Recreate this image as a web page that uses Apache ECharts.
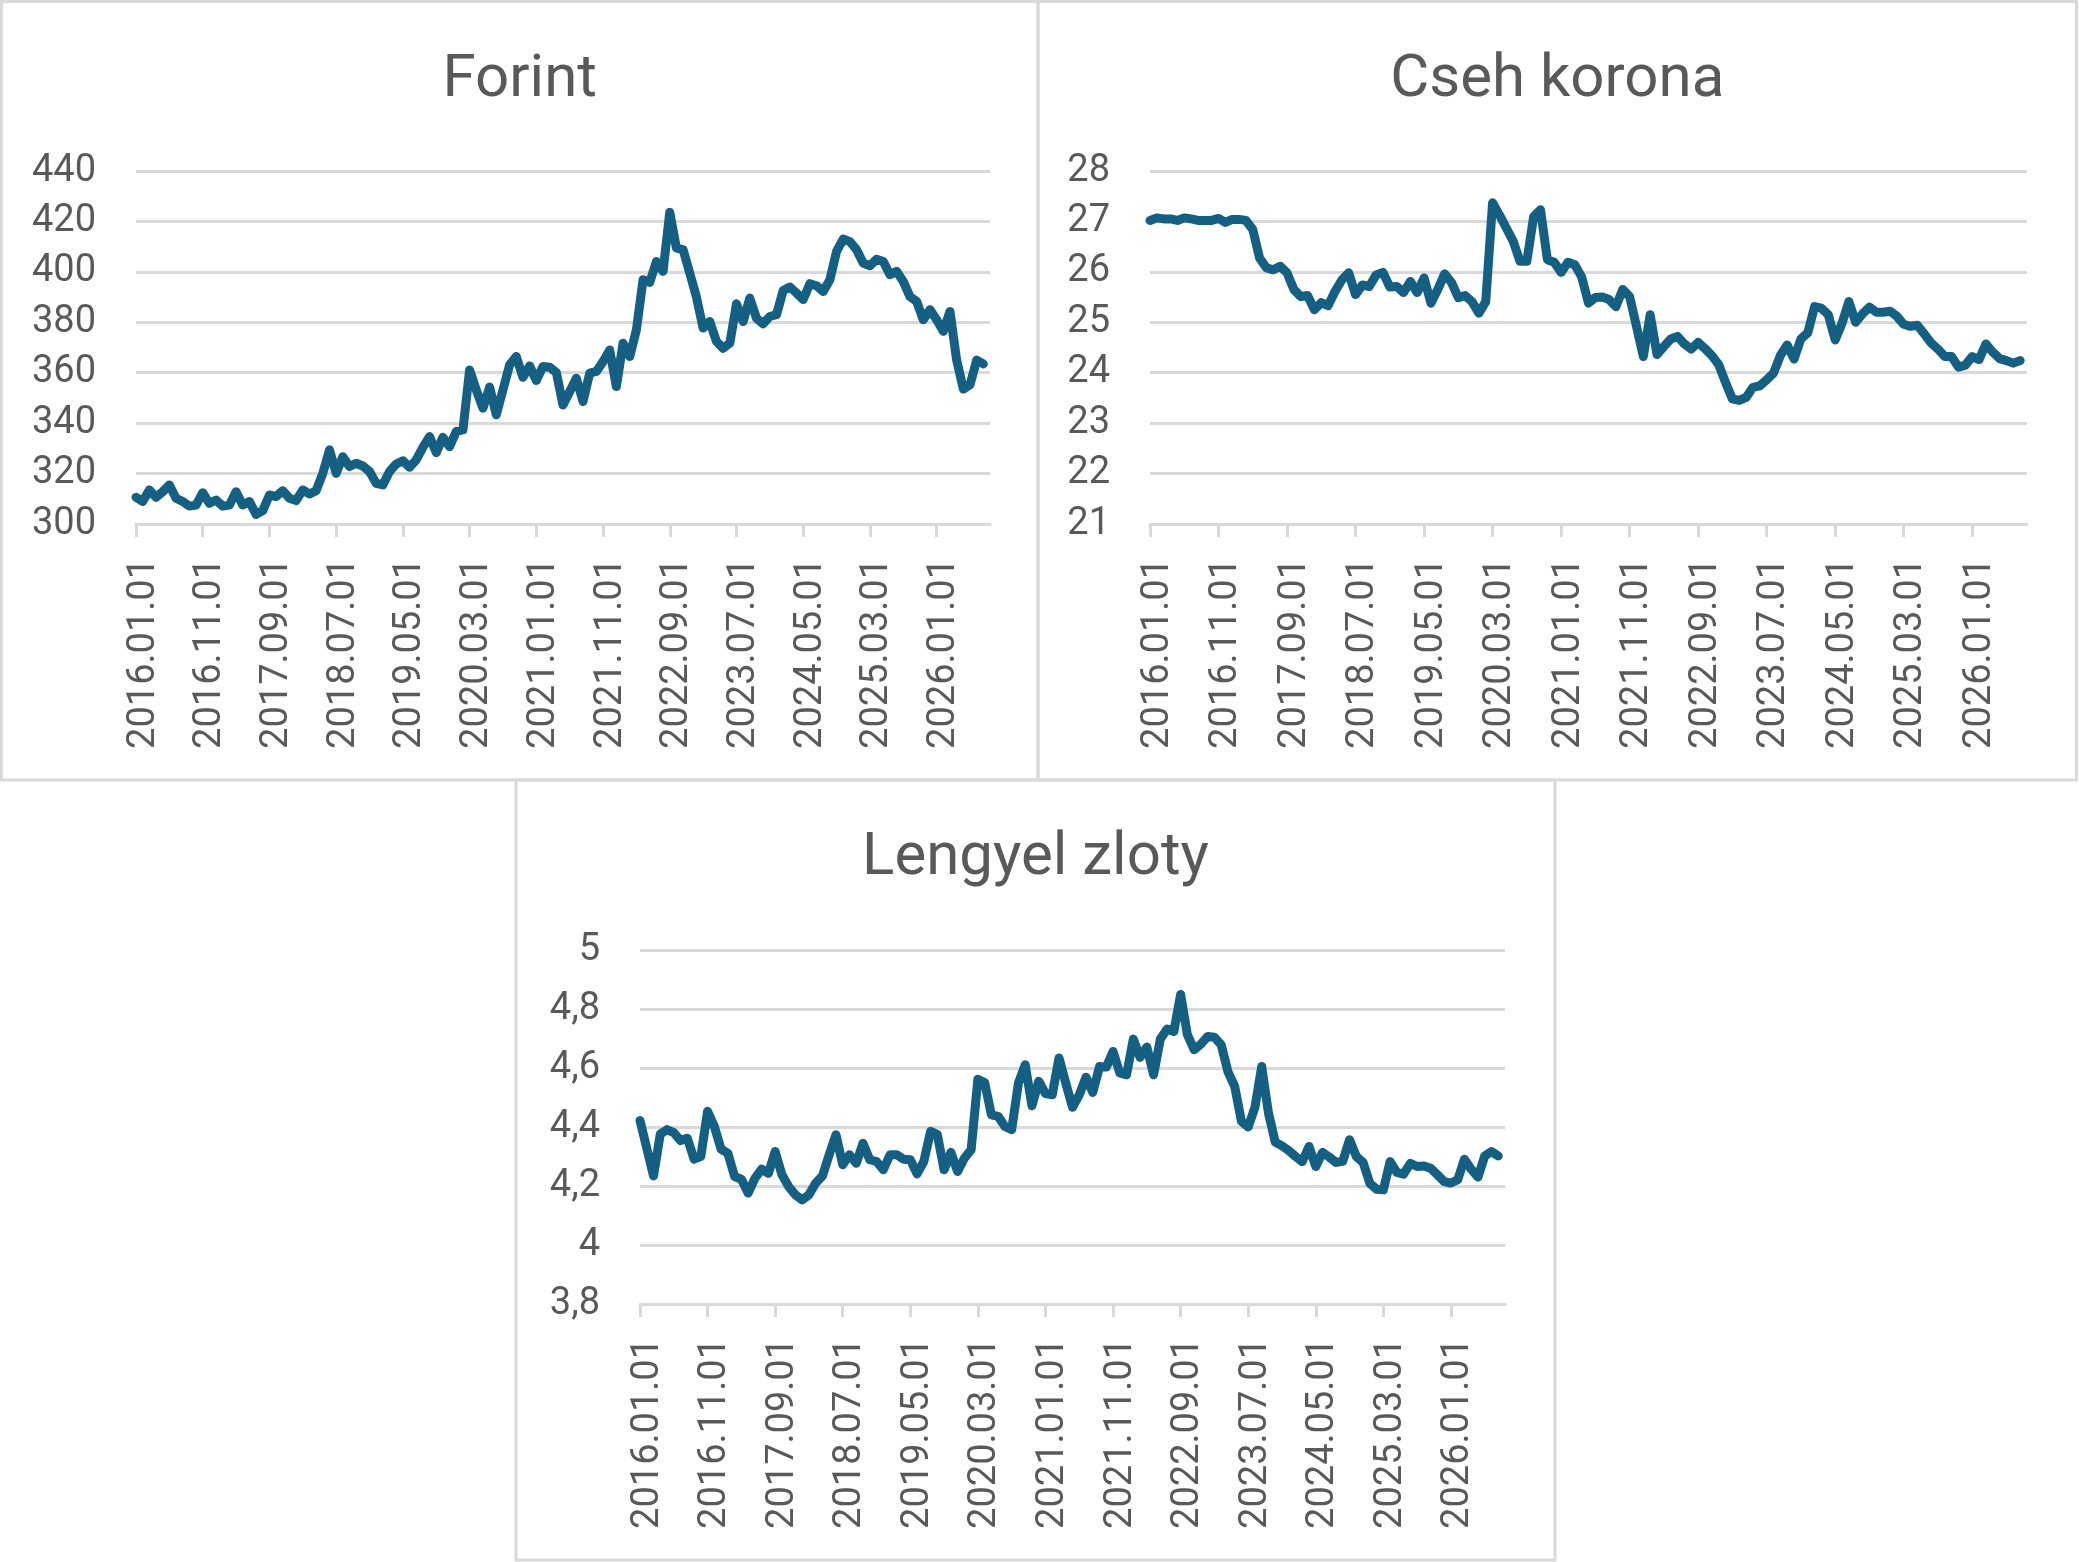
<!DOCTYPE html>
<html>
<head>
<meta charset="utf-8">
<title>Forint, Cseh korona, Lengyel zloty</title>
<script src="https://cdn.jsdelivr.net/npm/echarts@6.0.0/dist/echarts.min.js"></script>
<style>
  html, body { margin: 0; padding: 0; background: #ffffff; }
  #chartContainer { width: 2079px; height: 1562px; }
</style>
</head>
<body>
<div id="chartContainer"></div>
<script>
// ============================================================
// DATA
// Monthly values, 2016.01 -> 2026.08 (128 points each)
// The axis runs one month further, to 2026.09
// ============================================================

const panelTitles = ['Forint', 'Cseh korona', 'Lengyel zloty'];

// Forint (HUF)
const forintValues = [
  310.6, 308.9, 313.5, 310.6, 312.8, 315.5, 310.2, 308.9, 307.1, 307.5,
  312.4, 308.2, 309.5, 307.1, 307.5, 312.8, 307.5, 308.9, 303.8, 305.3,
  311.5, 310.9, 313.2, 310.2, 309.3, 313.5, 311.9, 313.2, 320.1, 329.4,
  320.1, 326.7, 322.8, 324.1, 323.0, 320.8, 316.1, 315.5, 320.8, 323.8,
  325.1, 322.5, 325.4, 330.4, 334.7, 328.3, 334.4, 330.7, 336.7, 337.3,
  361.1, 353.2, 345.9, 354.3, 343.3, 353.2, 363.1, 366.4, 358.2, 362.7,
  356.9, 362.5, 362.2, 360.1, 347.2, 352.5, 357.8, 348.6, 359.8, 360.5,
  364.4, 369.0, 354.5, 371.7, 366.4, 377.0, 396.9, 395.8, 404.1, 400.2,
  423.6, 409.4, 408.8, 399.5, 390.0, 377.7, 380.3, 372.4, 369.7, 371.7,
  387.3, 380.3, 389.6, 381.6, 379.4, 382.3, 383.0, 392.6, 394.0, 391.6,
  389.0, 395.3, 394.5, 392.2, 396.9, 408.1, 413.0, 412.0, 408.8, 403.5,
  402.4, 405.0, 404.1, 398.9, 400.2, 396.2, 390.2, 388.3, 381.0, 385.0,
  381.0, 376.4, 384.3, 365.0, 353.5, 355.2, 365.0, 363.5
];

// Cseh korona (CZK)
const korunaValues = [
  27.02, 27.07, 27.05, 27.05, 27.02, 27.07, 27.05, 27.02, 27.02, 27.02,
  27.06, 26.98, 27.04, 27.04, 27.02, 26.84, 26.27, 26.08, 26.04, 26.11,
  25.98, 25.65, 25.51, 25.53, 25.25, 25.39, 25.33, 25.61, 25.84, 25.98,
  25.55, 25.74, 25.71, 25.94, 25.99, 25.70, 25.71, 25.59, 25.81, 25.59,
  25.88, 25.38, 25.65, 25.96, 25.79, 25.49, 25.53, 25.41, 25.18, 25.41,
  27.37, 27.13, 26.87, 26.61, 26.21, 26.21, 27.10, 27.23, 26.24, 26.19,
  25.99, 26.19, 26.14, 25.90, 25.38, 25.49, 25.50, 25.45, 25.31, 25.65,
  25.51, 24.92, 24.32, 25.15, 24.36, 24.52, 24.67, 24.72, 24.57, 24.47,
  24.60, 24.48, 24.34, 24.16, 23.81, 23.48, 23.45, 23.51, 23.71, 23.74,
  23.86, 23.99, 24.34, 24.55, 24.27, 24.67, 24.79, 25.31, 25.28, 25.15,
  24.65, 24.98, 25.41, 25.00, 25.17, 25.30, 25.20, 25.20, 25.22, 25.12,
  24.96, 24.92, 24.94, 24.77, 24.59, 24.47, 24.32, 24.32, 24.11, 24.15,
  24.32, 24.26, 24.57, 24.41, 24.28, 24.24, 24.19, 24.24
];

// Lengyel zloty (PLN)
const zlotyValues = [
  4.422, 4.328, 4.234, 4.376, 4.391, 4.381, 4.354, 4.362, 4.291, 4.300,
  4.453, 4.402, 4.325, 4.311, 4.232, 4.223, 4.176, 4.226, 4.257, 4.243,
  4.317, 4.238, 4.198, 4.170, 4.153, 4.170, 4.210, 4.234, 4.306, 4.374,
  4.272, 4.306, 4.277, 4.345, 4.289, 4.283, 4.255, 4.306, 4.306, 4.291,
  4.289, 4.241, 4.283, 4.385, 4.374, 4.255, 4.314, 4.249, 4.294, 4.323,
  4.562, 4.551, 4.441, 4.436, 4.402, 4.391, 4.549, 4.611, 4.472, 4.555,
  4.513, 4.509, 4.634, 4.549, 4.467, 4.509, 4.569, 4.517, 4.605, 4.603,
  4.656, 4.583, 4.577, 4.698, 4.636, 4.671, 4.577, 4.698, 4.732, 4.724,
  4.849, 4.713, 4.662, 4.681, 4.707, 4.704, 4.679, 4.588, 4.538, 4.419,
  4.400, 4.467, 4.605, 4.447, 4.349, 4.336, 4.320, 4.300, 4.283, 4.334,
  4.266, 4.314, 4.298, 4.280, 4.284, 4.357, 4.300, 4.280, 4.209, 4.189,
  4.187, 4.283, 4.246, 4.240, 4.277, 4.266, 4.268, 4.260, 4.238, 4.215,
  4.210, 4.221, 4.291, 4.257, 4.230, 4.302, 4.317, 4.302
];

// Y axis ranges: [min, max, step]
const forintAxis = [300, 440, 20];
const korunaAxis = [21, 28, 1];
const zlotyAxis = [3.8, 5, 0.2];

// Category labels, one per month, 2016.01.01 ... 2026.09.01
const monthLabels = [];
for (let y = 2016; y <= 2026; y++) {
  for (let m = 1; m <= 12; m++) {
    if (y === 2026 && m > 9) break;
    monthLabels.push(y + '.' + String(m).padStart(2, '0') + '.01');
  }
}


// ============================================================
// STYLE
// ============================================================

const textGrey = '#595959';
const lineGrey = '#d9d9d9';
const seriesBlue = '#156082';
const fontName = 'Roboto, "Open Sans", sans-serif';

// panel boxes [x, y, w, h] and plot areas [left, top, width, height]
const panels = [
  [1.5, 1.5, 1036.5, 778.5],
  [1038, 1.5, 1038.5, 778.5],
  [516, 780, 1039, 780]
];
const plots = [
  [136, 171, 854, 353],
  [1150, 171, 877, 353],
  [640, 950, 865, 354]
];


// ============================================================
// BUILD OPTION
// ============================================================

function makeXAxis(idx) {
  return {
    type: 'category',
    gridIndex: idx,
    data: monthLabels,
    boundaryGap: false,
    axisLine: { show: true, lineStyle: { color: lineGrey, width: 3 } },
    axisTick: { show: true, interval: 9, length: 13, lineStyle: { color: lineGrey, width: 3 } },
    axisLabel: {
      interval: 9,
      rotate: 90,
      margin: 34,
      // top-aligned short line box: nudges the rotated text right of its tick
      verticalAlign: 'top',
      lineHeight: 16,
      color: textGrey,
      fontSize: 38,
      fontFamily: fontName
    },
    splitLine: { show: false }
  };
}

function makeYAxis(idx, range, formatter) {
  return {
    type: 'value',
    gridIndex: idx,
    min: range[0],
    max: range[1],
    interval: range[2],
    axisLine: { show: false },
    axisTick: { show: false },
    axisLabel: {
      margin: 40,
      color: textGrey,
      fontSize: 38,
      fontFamily: fontName,
      formatter: formatter
    },
    splitLine: { show: true, lineStyle: { color: lineGrey, width: 3 } }
  };
}

function makeSeries(idx, values) {
  return {
    type: 'line',
    xAxisIndex: idx,
    yAxisIndex: idx,
    data: values,
    showSymbol: false,
    symbol: 'none',
    smooth: false,
    lineStyle: { color: seriesBlue, width: 9, cap: 'round', join: 'round' },
    itemStyle: { color: seriesBlue },
    z: 5
  };
}

const commaFormat = function(v) {
  return String(+v.toFixed(1)).replace('.', ',');
};

const option = {
  backgroundColor: '#ffffff',
  animation: false,
  title: panelTitles.map(function(t, i) {
    return {
      text: t,
      left: panels[i][0] + panels[i][2] / 2,
      top: panels[i][1] + 49,
      textAlign: 'center',
      padding: 0,
      textStyle: { color: textGrey, fontSize: 60, fontWeight: 'normal', fontFamily: fontName }
    };
  }),
  grid: plots.map(function(p) {
    return { left: p[0], top: p[1], width: p[2], height: p[3], containLabel: false };
  }),
  xAxis: [makeXAxis(0), makeXAxis(1), makeXAxis(2)],
  yAxis: [
    makeYAxis(0, forintAxis, '{value}'),
    makeYAxis(1, korunaAxis, '{value}'),
    makeYAxis(2, zlotyAxis, commaFormat)
  ],
  series: [
    makeSeries(0, forintValues),
    makeSeries(1, korunaValues),
    makeSeries(2, zlotyValues)
  ],
  // panel frames
  graphic: panels.map(function(p) {
    return {
      type: 'rect',
      silent: true,
      z: -1,
      shape: { x: p[0], y: p[1], width: p[2], height: p[3] },
      style: { fill: 'none', stroke: lineGrey, lineWidth: 3 }
    };
  })
};

const chartInstance = echarts.init(document.getElementById('chartContainer'));
chartInstance.setOption(option);
</script>
</body>
</html>
